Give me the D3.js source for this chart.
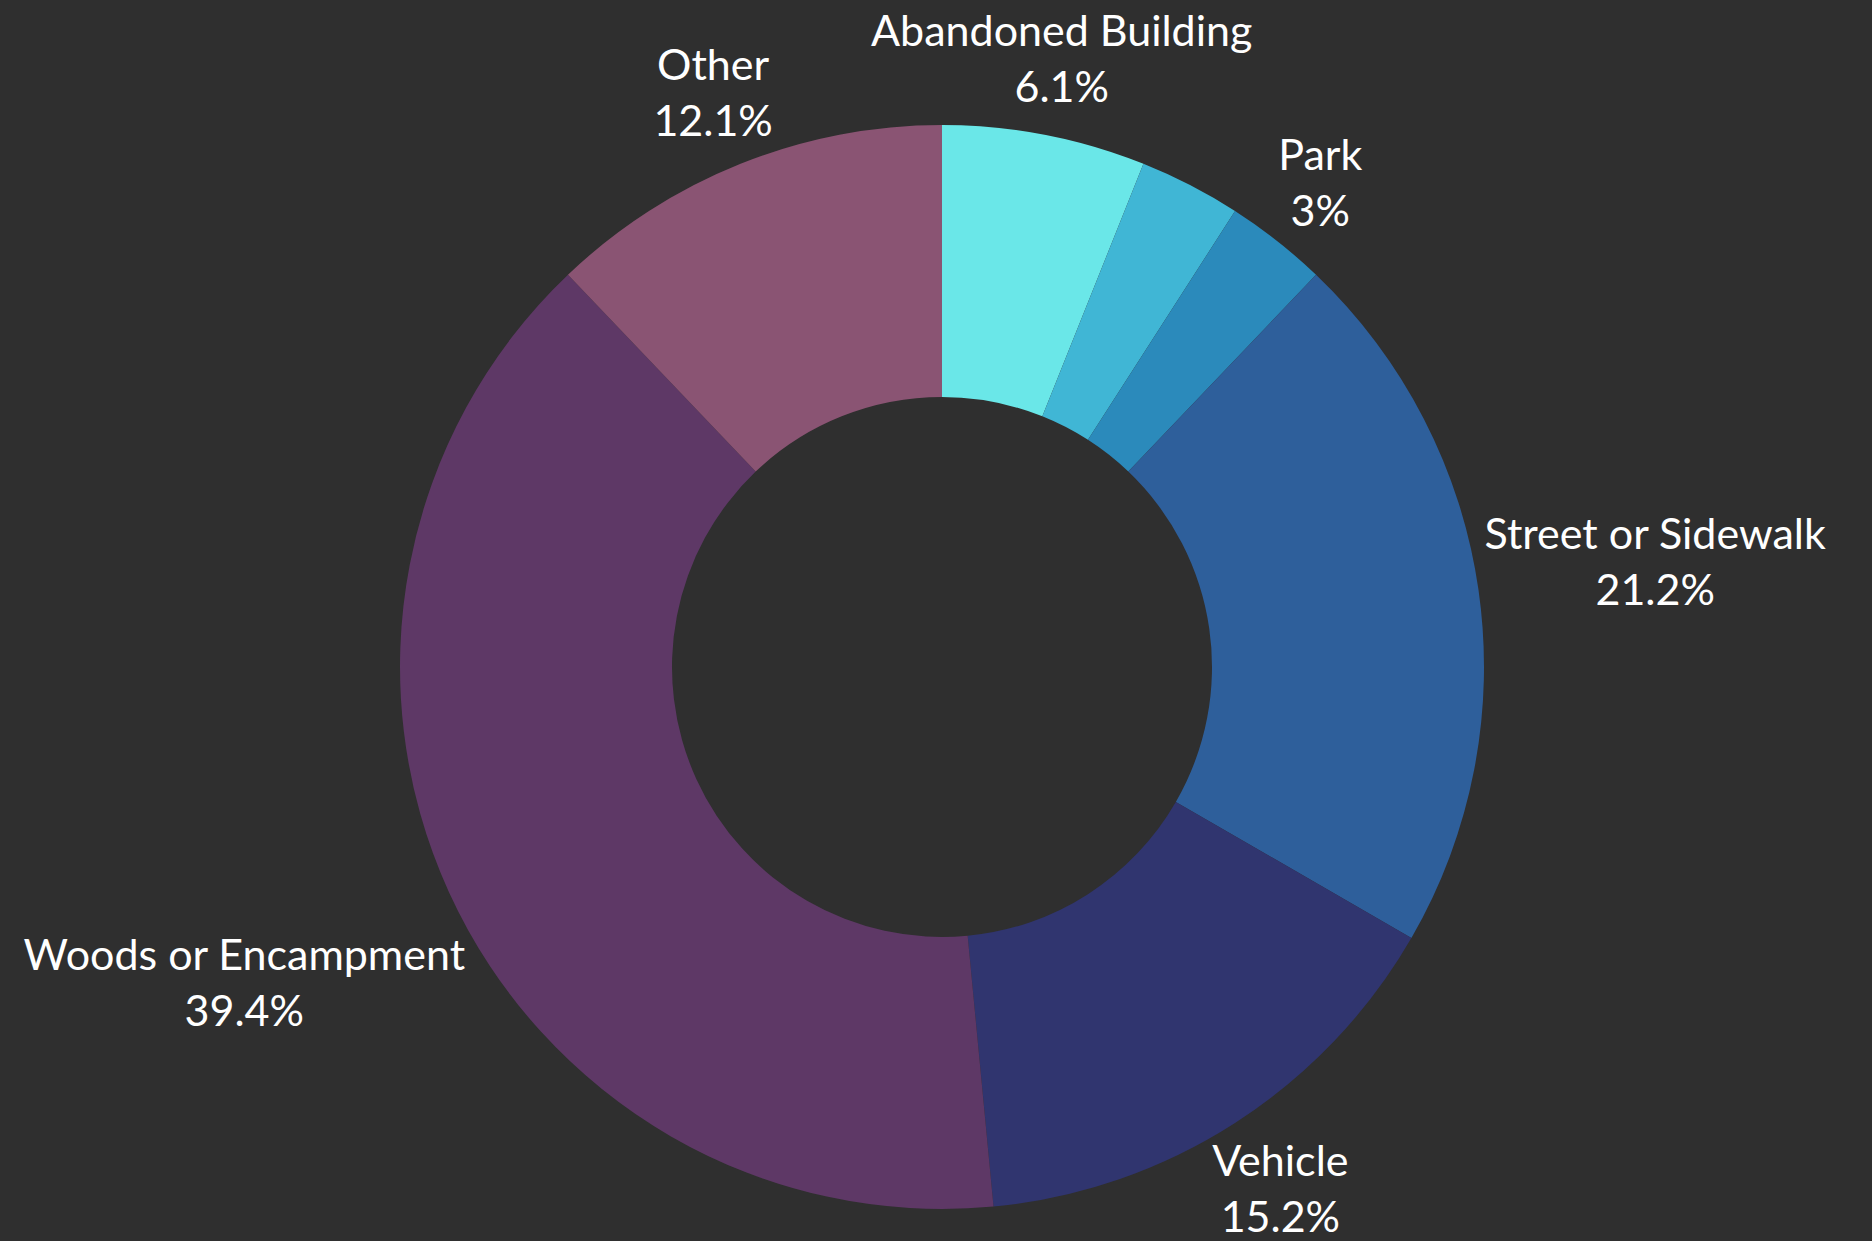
<!DOCTYPE html>
<meta charset="utf-8">
<style>
body { margin: 0; background: #2f2f2f; }
.label {
  font: 43px Lato, "Open Sans", sans-serif;
  fill: #fff;
  text-anchor: middle;
}
</style>
<svg width="1872" height="1241"></svg>
<script src="https://d3js.org/d3.v7.min.js"></script>
<script>

var categories = ["Abandoned Building", "Shelter", "Park", "Street or Sidewalk", "Vehicle", "Woods or Encampment", "Other"];
var counts = [2, 1, 1, 7, 5, 13, 4];
var colors = ["#6ae7e8", "#40b6d5", "#2b8abb", "#2e5f9b", "#30356f", "#5e3866", "#8a5473"];
// the second slice has no label in the chart (it collided with its neighbours)
var showLabel = [true, false, true, true, true, true, true];

var svg = d3.select("svg"),
    width = +svg.attr("width"),
    height = +svg.attr("height"),
    cx = 942, cy = 667,
    outer = 542, inner = 270,
    labelR = 544;

svg.append("rect").attr("width", width).attr("height", height).attr("fill", "#2f2f2f");

var total = d3.sum(counts);
var data = categories.map(function(c, i) {
  return { name: c, value: counts[i], color: colors[i], show: showLabel[i] };
});

var pie = d3.pie().sort(null).value(function(d) { return d.value; });
var arc = d3.arc().innerRadius(inner).outerRadius(outer);

var g = svg.append("g").attr("transform", "translate(" + cx + "," + cy + ")");

var arcs = pie(data);

g.selectAll("path")
  .data(arcs)
  .enter().append("path")
    .attr("d", arc)
    .attr("fill", function(d) { return d.data.color; });

var fmt = function(v) { return +(v / total * 100).toFixed(1) + "%"; };

var label = g.selectAll("text")
  .data(arcs.filter(function(d) { return d.data.show; }))
  .enter().append("text")
    .attr("class", "label");

label.append("tspan").attr("x", 0).attr("y", 0).text(function(d) { return d.data.name; });
label.append("tspan").attr("x", 0).attr("y", 56).text(function(d) { return fmt(d.data.value); });

// slide each label's centre out along its slice's middle ray until the box clears the ring,
// then keep it inside the page
label.attr("transform", function(d) {
  var a = (d.startAngle + d.endAngle) / 2,
      s = Math.sin(a), c = -Math.cos(a),
      b = this.getBBox(),
      bx = b.x + b.width / 2, by = b.y + b.height / 2,
      r = labelR + Math.abs(s) * b.width / 2 + Math.abs(c) * b.height / 2,
      tx = r * s - bx,
      ty = r * c - by - 4;
  if (cy + ty + b.y < 4) ty = 4 - cy - b.y;
  if (cy + ty + b.y + b.height > height) ty = height - cy - b.y - b.height;
  return "translate(" + tx + "," + ty + ")";
});

</script>
